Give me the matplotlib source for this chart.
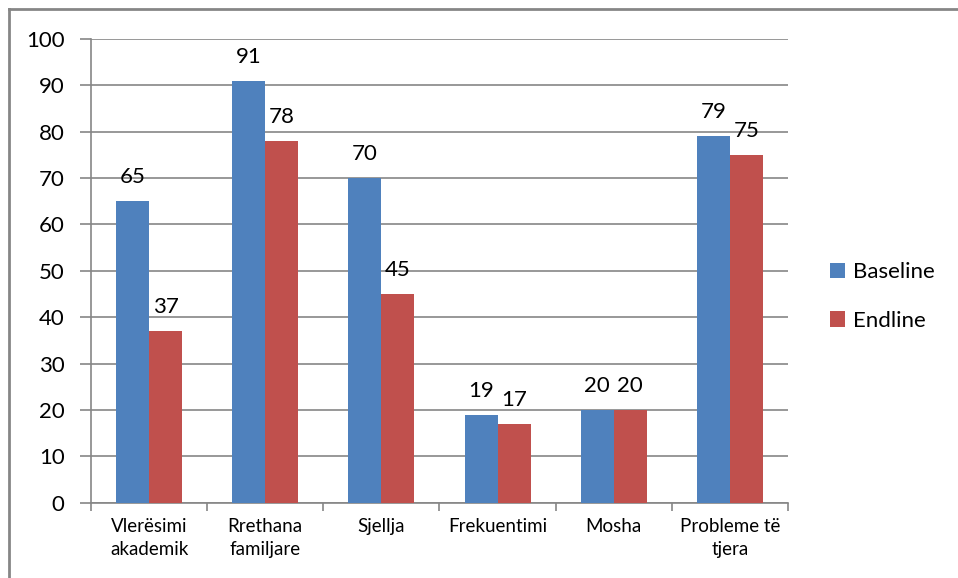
import matplotlib.pyplot as plt
import numpy as np

categories = ["Vlerësimi\nakademik", "Rrethana\nfamiljare", "Sjellja",
              "Frekuentimi", "Mosha", "Probleme të\ntjera"]
baseline = [65, 91, 70, 19, 20, 79]
endline = [37, 78, 45, 17, 20, 75]

plt.rcParams['font.family'] = ['Lato', 'DejaVu Sans']

blue = '#4F81BD'
red = '#C0504D'
grey = '#868686'

fig = plt.figure(figsize=(9.58, 5.78), dpi=100)
ax = fig.add_axes([0.095, 0.1303, 0.7275, 0.8022])

x = np.arange(len(categories))
w = 0.284
b1 = ax.bar(x - w / 2, baseline, w, color=blue, label='Baseline', zorder=3)
b2 = ax.bar(x + w / 2, endline, w, color=red, label='Endline', zorder=3)

for bars, vals in [(b1, baseline), (b2, endline)]:
    for bar, v in zip(bars, vals):
        ax.annotate(str(v), (bar.get_x() + bar.get_width() / 2, v),
                    xytext=(0, 10), textcoords='offset points',
                    ha='center', va='bottom', fontsize=16)

ax.set_xlim(-0.5, len(categories) - 0.5)
ax.set_ylim(0, 100)
ax.set_yticks(range(0, 101, 10))
ax.yaxis.grid(True, color=grey, linewidth=1.2, zorder=0)
ax.tick_params(axis='y', labelsize=16, length=8, width=1.2, color=grey, pad=11)

ax.set_xticks(np.arange(-0.5, len(categories), 1.0))
ax.set_xticklabels([])
ax.set_xticks(x, minor=True)
ax.set_xticklabels(categories, minor=True, fontsize=13.5, linespacing=1.45)
ax.tick_params(axis='x', which='major', length=6, width=1.2, color=grey)
ax.tick_params(axis='x', which='minor', length=0, pad=11)

for s in ['top', 'right']:
    ax.spines[s].set_visible(False)
for s in ['left', 'bottom']:
    ax.spines[s].set_color(grey)
    ax.spines[s].set_linewidth(1.2)

fig.legend(handles=[b1, b2], loc='center left', bbox_to_anchor=(0.866, 0.487),
           frameon=False, fontsize=16, handlelength=0.7, handleheight=0.7,
           handletextpad=0.35, labelspacing=1.3, borderpad=0, borderaxespad=0)

# chart border (left and top edges)
fig.add_artist(plt.Line2D([0.0094, 0.0094], [0.0, 0.984], transform=fig.transFigure,
                          color=grey, linewidth=2))
fig.add_artist(plt.Line2D([0.0094, 1.0], [0.984, 0.984], transform=fig.transFigure,
                          color=grey, linewidth=2))

fig.savefig('out.png', dpi=100)
